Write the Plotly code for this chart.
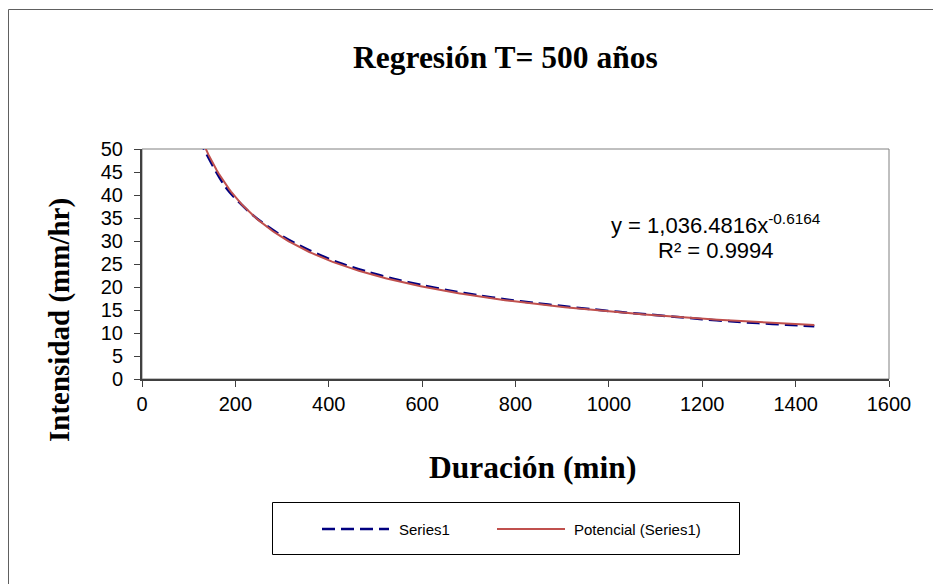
import numpy as np
import plotly.graph_objects as go

# ---- data ----
duracion = [120, 180, 240, 300, 360, 420, 480, 540, 600, 660, 720, 780,
            840, 900, 960, 1020, 1080, 1140, 1200, 1260, 1320, 1380, 1440]
intensidad = [52.5, 41.6, 35.4, 31.1, 27.9, 25.35, 23.4, 21.75, 20.4, 19.2, 18.2, 17.3,
              16.55, 15.85, 15.2, 14.6, 14.05, 13.55, 13.0, 12.55, 12.15, 11.8, 11.45]
trend_a = 1036.4816
trend_b = -0.6164
r_squared = 0.9994
series_name = "Series1"
trend_name = "Potencial (Series1)"
title_text = "Regresión T= 500 años"
x_title = "Duración (min)"
y_title = "Intensidad (mm/hr)"

# ---- geometry helpers (page pixel coords; page body has an 8px margin) ----
OFF = 8
W, H = 941, 584
PL, PR, PT, PB = 142, 889, 149, 379  # plot area in page pixels
L = PL - OFF
T = PT - OFF
R = W - (PR - OFF)
B = H - (PB - OFF)


def px(xp):
    return (xp - PL) / (PR - PL)


def py(yp):
    return (PB - yp) / (PB - PT)


trend_x = np.linspace(min(duracion), max(duracion), 300)
trend_y = trend_a * trend_x ** trend_b

fig = go.Figure()
fig.add_trace(go.Scatter(
    x=duracion, y=intensidad, mode="lines", name=series_name,
    line=dict(color="#000080", width=2.5, dash="13px,6px", shape="spline", smoothing=0.8),
))
fig.add_trace(go.Scatter(
    x=trend_x, y=trend_y, mode="lines", name=trend_name,
    line=dict(color="#C0504D", width=2),
))

sans = "Liberation Sans, Arial, sans-serif"
serif = "Liberation Serif, Times New Roman, serif"

axis_common = dict(
    showgrid=False, zeroline=False, showline=True, linecolor="#404040", linewidth=2,
    ticks="outside", ticklen=6, tickcolor="#404040", tickwidth=1,
    tickfont=dict(family=sans, size=20, color="black"),
)

fig.update_layout(
    width=W, height=H,
    margin=dict(l=L, r=R, t=T, b=B),
    paper_bgcolor="white", plot_bgcolor="white",
    showlegend=False,
    xaxis=dict(range=[0, 1600], dtick=200, tick0=0, **axis_common),
    yaxis=dict(range=[0, 50], dtick=5, tick0=0, ticklabelstandoff=7, **axis_common),
)

annotations = [
    dict(text=f"<b>{title_text}</b>", x=px(505), y=py(57), xref="paper", yref="paper",
         showarrow=False, xanchor="center", yanchor="middle",
         font=dict(family=serif, size=31.5, color="black")),
    dict(text=f"<b>{x_title}</b>", x=px(532), y=py(467), xref="paper", yref="paper",
         showarrow=False, xanchor="center", yanchor="middle",
         font=dict(family=serif, size=31.5, color="black")),
    dict(text=f"<b>{y_title}</b>", x=px(59), y=py(320), xref="paper", yref="paper",
         showarrow=False, xanchor="center", yanchor="middle", textangle=-90,
         font=dict(family=serif, size=29, color="black")),
    dict(text=f"y = 1,036.4816x<sup>{trend_b}</sup>",
         x=px(716), y=py(224), xref="paper", yref="paper",
         showarrow=False, xanchor="center", yanchor="middle", align="center",
         font=dict(family=sans, size=22, color="black")),
    dict(text=f"R² = {r_squared}",
         x=px(716), y=py(250), xref="paper", yref="paper",
         showarrow=False, xanchor="center", yanchor="middle", align="center",
         font=dict(family=sans, size=22, color="black")),
    dict(text=series_name, x=px(397), y=py(529), xref="paper", yref="paper",
         showarrow=False, xanchor="left", yanchor="middle",
         font=dict(family=sans, size=15, color="black")),
    dict(text=trend_name, x=px(572), y=py(529), xref="paper", yref="paper",
         showarrow=False, xanchor="left", yanchor="middle",
         font=dict(family=sans, size=15, color="black")),
]
fig.update_layout(annotations=annotations)

shapes = [
    # plot-area border (gray)
    dict(type="rect", xref="paper", yref="paper", x0=0, x1=1, y0=0, y1=1,
         line=dict(color="#808080", width=1), layer="below"),
    # outer chart border
    dict(type="rect", xref="paper", yref="paper", x0=px(8.5), x1=px(1000), y0=py(9.5), y1=py(700),
         line=dict(color="#606060", width=1)),
    # legend box
    dict(type="rect", xref="paper", yref="paper", x0=px(272.5), x1=px(739.5), y0=py(502.5), y1=py(554.5),
         line=dict(color="black", width=1)),
    # legend samples
    dict(type="line", xref="paper", yref="paper", x0=px(322), x1=px(389), y0=py(529), y1=py(529),
         line=dict(color="#000080", width=2.5, dash="13px,6px")),
    dict(type="line", xref="paper", yref="paper", x0=px(497), x1=px(565), y0=py(529), y1=py(529),
         line=dict(color="#C0504D", width=2)),
]
fig.update_layout(shapes=shapes)

fig.write_html("out.html")
